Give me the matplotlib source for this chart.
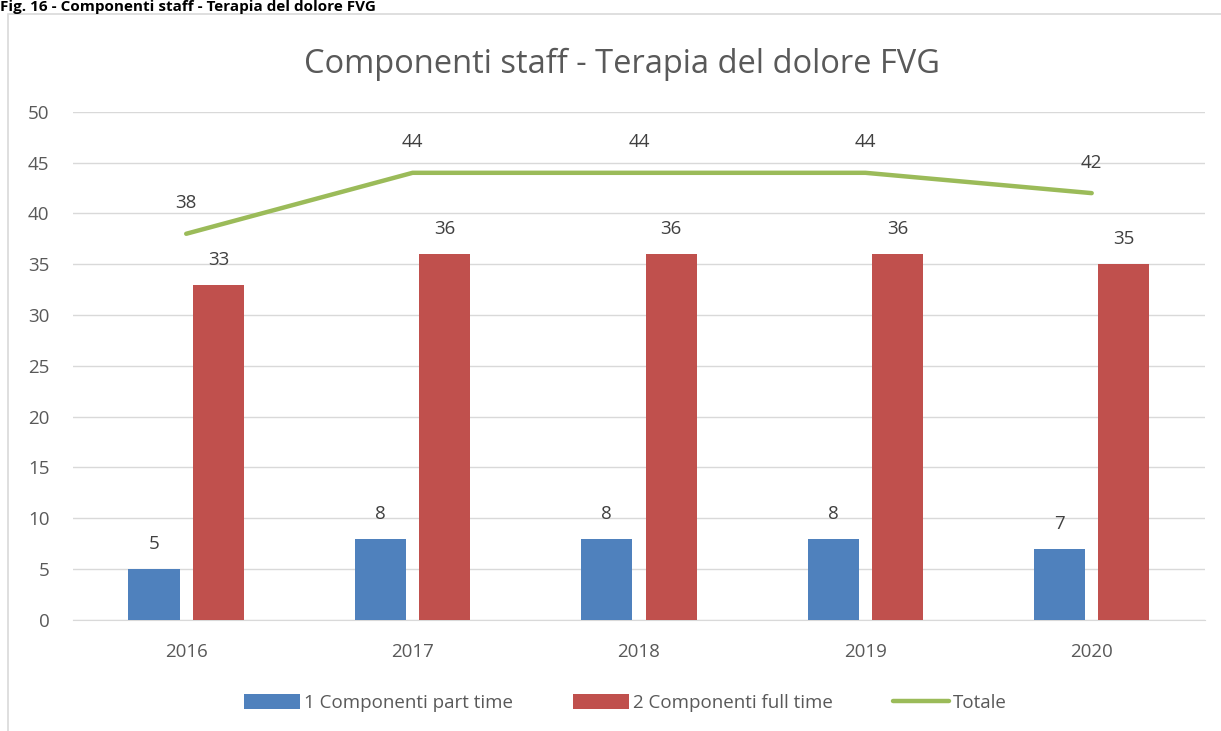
import numpy as np
import matplotlib.pyplot as plt
from matplotlib.patches import Rectangle

years = ["2016", "2017", "2018", "2019", "2020"]
part_time = [5, 8, 8, 8, 7]
full_time = [33, 36, 36, 36, 35]
totale = [38, 44, 44, 44, 42]

BLUE = "#4F81BD"
RED = "#C0504D"
GREEN = "#9BBB59"
GRID = "#D9D9D9"
TXT = "#595959"
FS = 13.5

plt.rcParams["font.family"] = ["Open Sans", "DejaVu Sans"]

fig = plt.figure(figsize=(12.21, 7.31), dpi=100)
ax = fig.add_axes([0.0598, 0.152, 0.927, 0.695])

# outer chart frame and caption
fig.patches.append(Rectangle((8 / 1221, -0.05), 1.1, 1 - 14 / 731 + 0.05,
                             transform=fig.transFigure, fill=False,
                             edgecolor=GRID, linewidth=1.2))
fig.text(0.0, 1.0, "Fig. 16 - Componenti staff - Terapia del dolore FVG",
         fontsize=11, fontweight="bold", ha="left", va="top", color="black")

x = np.arange(len(years))
w = 0.226
off = 0.142
ax.bar(x - off, part_time, w, color=BLUE, label="1 Componenti part time", zorder=3)
ax.bar(x + off, full_time, w, color=RED, label="2 Componenti full time", zorder=3)
ax.plot(x, totale, color=GREEN, linewidth=3.2, label="Totale", zorder=4,
        solid_capstyle="round")

for xi, v in zip(x, part_time):
    ax.annotate(str(v), (xi - off, v), xytext=(0, 18), textcoords="offset points",
                ha="center", va="center", fontsize=FS, color="#404040")
for xi, v in zip(x, full_time):
    ax.annotate(str(v), (xi + off, v), xytext=(0, 18), textcoords="offset points",
                ha="center", va="center", fontsize=FS, color="#404040")
for xi, v in zip(x, totale):
    ax.annotate(str(v), (xi, v), xytext=(0, 22), textcoords="offset points",
                ha="center", va="center", fontsize=FS, color="#404040")

ax.set_xlim(-0.5, len(years) - 0.5)
ax.set_ylim(0, 50)
ax.set_yticks(range(0, 51, 5))
ax.set_xticks(x)
ax.set_xticklabels(years)
ax.tick_params(axis="both", length=0, labelsize=FS, colors=TXT)
ax.tick_params(axis="x", pad=17)
ax.tick_params(axis="y", pad=17)
ax.grid(axis="y", color=GRID, linewidth=1, zorder=0)
for s in ["top", "right", "left"]:
    ax.spines[s].set_visible(False)
ax.spines["bottom"].set_color(GRID)

ax.set_title("Componenti staff - Terapia del dolore FVG", fontsize=23.5, color=TXT,
             pad=28, x=0.485)

h, l = ax.get_legend_handles_labels()
order = [1, 2, 0]
fig.legend([h[i] for i in order], [l[i] for i in order], loc="center",
           bbox_to_anchor=(0.512, 1 - 703 / 731), ncol=3, frameon=False,
           fontsize=FS, labelcolor=TXT, handlelength=3.0, handleheight=0.9,
           columnspacing=3.2, handletextpad=0.2)

fig.savefig("out.png", dpi=100)
